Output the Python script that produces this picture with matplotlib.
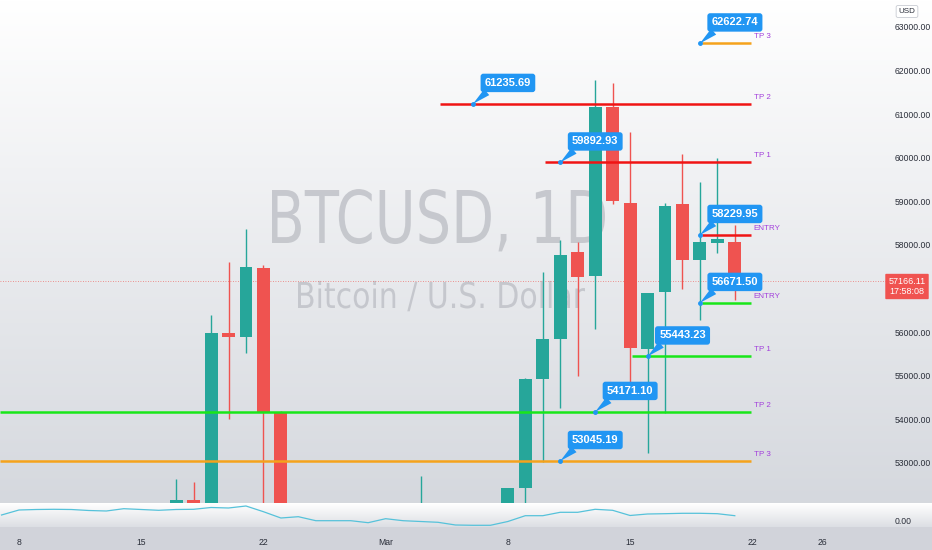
import numpy as np
import pandas as pd
import matplotlib
matplotlib.use('Agg')
import matplotlib.pyplot as plt
import matplotlib.dates as mdates
from matplotlib.textpath import TextPath
from matplotlib.patches import PathPatch
from matplotlib.font_manager import FontProperties
from matplotlib.transforms import Affine2D

plt.rcParams['font.family'] = ['Liberation Sans', 'DejaVu Sans']

# daily candles BTCUSD 2021 (off-screen ones rough)
dates = ['2021-02-17', '2021-02-18', '2021-02-19', '2021-02-20', '2021-02-21', '2021-02-22',
         '2021-02-23', '2021-02-24', '2021-02-25', '2021-02-26', '2021-02-27', '2021-02-28',
         '2021-03-01', '2021-03-02', '2021-03-03', '2021-03-04', '2021-03-05', '2021-03-06',
         '2021-03-07', '2021-03-08', '2021-03-09', '2021-03-10', '2021-03-11', '2021-03-12',
         '2021-03-13', '2021-03-14', '2021-03-15', '2021-03-16', '2021-03-17', '2021-03-18',
         '2021-03-19', '2021-03-20', '2021-03-21']
opens  = [49150, 52150, 51600, 55980, 55900, 57470, 54170, 48900, 49700, 47050, 46300, 46150,
          45200, 49600, 48400, 50500, 48400, 48800, 48900, 51000, 52430, 54930, 55840, 57840,
          57290, 61170, 58960, 55620, 56920, 58940, 57650, 58040, 58070]
highs  = [52630, 52560, 56400, 57600, 58370, 57550, 54200, 51350, 51900, 48400, 48350, 46600,
          49800, 50200, 52700, 51800, 49450, 49200, 51450, 52430, 54950, 57380, 58110, 58070,
          61780, 61720, 60590, 56900, 58960, 60090, 59450, 60000, 58460]
lows   = [48900, 50900, 50800, 54000, 55520, 46200, 45000, 47100, 46900, 44150, 45100, 43000,
          45000, 47050, 48100, 47500, 46300, 47100, 48900, 49300, 51900, 53030, 54260, 55000,
          56070, 58950, 54740, 53230, 54150, 56990, 56280, 57820, 56740]
closes = [52150, 51600, 55980, 55900, 57500, 54170, 48900, 49700, 47050, 46300, 46150, 45200,
          49600, 48400, 50500, 48400, 48800, 48900, 51000, 52430, 54930, 55840, 57770, 57270,
          61170, 59000, 55640, 56900, 58900, 57650, 58070, 58140, 57360]

# indicator pane line (one value per day from Feb 7)
ind_start = '2021-02-07'
ind_vals = [12, 17, 17.5, 17.7, 17.5, 16.5, 16, 18.3, 17.5, 16.7, 17.5, 17.7, 19.5, 19, 21,
            15.3, 9, 10.3, 6.3, 6.3, 6.3, 4.3, 8.3, 6.3, 5.5, 4.7, 2, 1.7, 1.7, 5.5, 11.3,
            11.3, 14.7, 14.7, 17.7, 16.7, 11.5, 13, 13.3, 13.7, 13.7, 13.3, 11.3]

# drawn levels
level_price  = [62622.74, 61235.69, 59892.93, 58229.95, 56671.50, 55443.23, 54171.10, 53045.19]
level_anchor = ['2021-03-19', '2021-03-06', '2021-03-11', '2021-03-19', '2021-03-19',
                '2021-03-16', '2021-03-13', '2021-03-11']
level_start  = ['2021-03-19', '2021-03-04', '2021-03-10', '2021-03-19', '2021-03-19',
                '2021-03-15', None, None]
level_tag    = ['TP 3', 'TP 2', 'TP 1', 'ENTRY', 'ENTRY', 'TP 1', 'TP 2', 'TP 3']
level_color  = ['#f5a21c', '#f01414', '#f01414', '#f01414', '#19e619', '#19e619', '#19e619', '#f5a21c']
level_end = '2021-03-22'

last_price = 57166.11
last_time = '17:58:08'

price_ticks = [53000, 54000, 55000, 56000, 58000, 59000, 60000, 61000, 62000, 63000]
time_ticks = ['2021-02-08', '2021-02-15', '2021-02-22', '2021-03-01', '2021-03-08',
              '2021-03-15', '2021-03-22', '2021-03-26']
time_labels = ['8', '15', '22', 'Mar', '8', '15', '22', '26']

UP = '#26a69a'
DOWN = '#ef5350'
BLUE = '#2196f3'
PURPLE = '#a23fdc'

W, H = 932, 550
fig = plt.figure(figsize=(W / 100, H / 100), dpi=100)

# background gradient
bg = fig.add_axes([0, 0, 1, 1], zorder=-10)
bg.axis('off')
rows = np.zeros((H, 1, 3))
top = np.array([1.0, 1.0, 1.0])
bot = np.array([0.835, 0.847, 0.870])
for r in range(H):
    if r < 503:
        t = r / 503
        rows[r, 0] = top * (1 - t) + bot * t
    elif r < 527:
        t = (r - 503) / 24
        rows[r, 0] = top * (1 - t) + np.array([0.86, 0.87, 0.89]) * t
    else:
        rows[r, 0] = [0.82, 0.83, 0.855]
bg.imshow(rows, aspect='auto', extent=[0, 1, 0, 1])


def watermark(s, left, right, cap_top, baseline):
    # narrow text drawn as a path, sized in pixels from the top-left
    fp = FontProperties(family='DejaVu Sans')
    tp = TextPath((0, 0), s, size=1, prop=fp)
    bb = tp.get_extents()
    cap = TextPath((0, 0), 'B', size=1, prop=fp).get_extents().y1
    sx = (right - left) / bb.width
    sy = (baseline - cap_top) / cap
    tr = (Affine2D().translate(-bb.x0, 0).scale(sx / W, sy / H)
          .translate(left / W, (H - baseline) / H) + fig.transFigure)
    fig.add_artist(PathPatch(tp, transform=tr, fc='#c0c2c8', ec='none', alpha=0.85, zorder=-5))


watermark('BTCUSD, 1D', 272, 605, 190, 243)
watermark('Bitcoin / U.S. Dollar', 298, 585, 282, 308)

x0 = mdates.date2num(pd.Timestamp('2021-02-08'))
xlim = (x0 - 1.088, x0 + 49.66)

ax = fig.add_axes([0, 47 / H, 886 / W, 503 / H])
ax.set_facecolor('none')
for s in ax.spines.values():
    s.set_visible(False)
ax.set_xlim(*xlim)
ax.set_ylim(52082, 63619)

xs = mdates.date2num(pd.to_datetime(dates))
o = np.array(opens); c = np.array(closes)
cols = [UP if cc >= oo else DOWN for oo, cc in zip(o, c)]
ax.vlines(xs, lows, highs, colors=cols, lw=1, zorder=2)
ax.bar(xs, np.maximum(np.abs(c - o), 15), bottom=np.minimum(o, c), width=0.74,
       color=cols, zorder=3)

# last price line
ax.axhline(last_price, color=DOWN, lw=0.6, ls=(0, (1, 2)), alpha=0.8, zorder=1)

xend = mdates.date2num(pd.Timestamp(level_end)) - 0.1
for p, a, st, tag, col in zip(level_price, level_anchor, level_start, level_tag, level_color):
    xa = mdates.date2num(pd.Timestamp(a))
    xst = xlim[0] if st is None else mdates.date2num(pd.Timestamp(st)) + 0.1
    ax.hlines(p, xst, xend, color=col, lw=1.8, zorder=4)
    ax.annotate(tag, (xend, p), xytext=(3, 3), textcoords='offset pixels', ha='left', va='bottom',
                fontsize=5.8, color=PURPLE, zorder=6)
    ax.plot([xa], [p], 'o', ms=2.5, color=BLUE, zorder=6)
    ax.annotate(f'{p:.2f}', (xa, p), xytext=(35, 21), textcoords='offset pixels',
                ha='center', va='center', fontsize=8, fontweight='bold', color='white',
                bbox=dict(boxstyle='round,pad=0.38,rounding_size=0.25', fc=BLUE, ec='none'),
                arrowprops=dict(arrowstyle='wedge,tail_width=0.7,shrink_factor=0.5', fc=BLUE,
                                ec='none', relpos=(0.2, 0.2), shrinkA=0, shrinkB=0),
                zorder=7)

ax.yaxis.tick_right()
ax.set_yticks(price_ticks)
ax.set_yticklabels([f'{p:.2f}' for p in price_ticks])
ax.tick_params(axis='y', length=0, pad=6, labelsize=6.2, labelcolor='#2a2e39')
ax.set_xticks([])

# indicator pane
ai = fig.add_axes([0, 23 / H, 886 / W, 24 / H])
ai.set_facecolor('none')
for s in ai.spines.values():
    s.set_visible(False)
ix = mdates.date2num(pd.Timestamp(ind_start)) + np.arange(len(ind_vals))
ai.plot(ix, ind_vals, color='#56c2da', lw=0.9)
ai.set_xlim(*xlim)
ai.set_ylim(0, 24)
ai.yaxis.tick_right()
ai.set_yticks([7])
ai.set_yticklabels(['0.00'])
ai.set_xticks(mdates.date2num(pd.to_datetime(time_ticks)))
ai.set_xticklabels(time_labels)
ai.tick_params(axis='y', length=0, pad=6, labelsize=6.2, labelcolor='#2a2e39')
ai.tick_params(axis='x', length=0, pad=8, labelsize=6.2, labelcolor='#2a2e39')

# right scale extras
fig.text(907 / W, 1 - 286.5 / H, f'{last_price:.2f}\n{last_time}', ha='center', va='center',
         fontsize=6.5, color='white', linespacing=1.15,
         bbox=dict(boxstyle='round,pad=0.35,rounding_size=0.1', fc='#f05350', ec='none'))
fig.text(907 / W, 1 - 11.5 / H, 'USD', ha='center', va='center', fontsize=5.8, color='#2a2e39',
         bbox=dict(boxstyle='round,pad=0.3,rounding_size=0.2', fc='white', ec='#c8cbd2', lw=0.6))

fig.savefig('out.png', dpi=100)
